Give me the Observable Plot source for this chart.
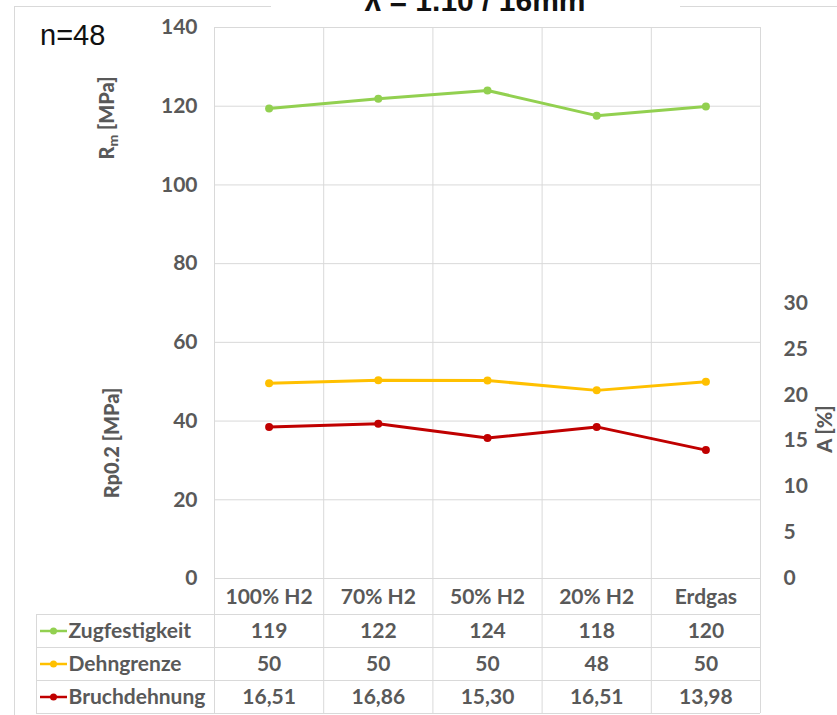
<!DOCTYPE html>
<html><head><meta charset="utf-8">
<script src="https://cdn.jsdelivr.net/npm/d3@7"></script>
<script src="https://cdn.jsdelivr.net/npm/@observablehq/plot@0.6"></script>
<style>
body{margin:0;background:#fff;}
#wrap{position:relative;width:837px;height:715px;overflow:hidden;background:#fff;}
#wrap svg{position:absolute;left:0;}
.axt{font-family:Lato, sans-serif;font-weight:900;font-size:20px;fill:#595959;}
</style></head><body><div id="wrap"></div>
<script>
const categories = ["100% H2", "70% H2", "50% H2", "20% H2", "Erdgas"];
const seriesNames = ["Zugfestigkeit", "Dehngrenze", "Bruchdehnung"];
const zugfestigkeit = [119.4, 121.9, 124.0, 117.6, 119.9];
const dehngrenze = [49.6, 50.4, 50.3, 47.8, 50.0];
const bruchdehnung = [16.51, 16.86, 15.30, 16.51, 13.98];
const leftTicks = [0, 20, 40, 60, 80, 100, 120, 140];
const rightTicks = [0, 5, 10, 15, 20, 25, 30];
const leftMax = 140, rightMax = 60;
const seriesColors = ["#92d050", "#ffc000", "#c00000"];
const titleText = "λ = 1.10 / 16mm";
const noteText = "n=48";

const toLeft = v => v * leftMax / rightMax;
const fmtComma = v => v.toFixed(2).replace(".", ",");
const seriesValues = [zugfestigkeit, dehngrenze, bruchdehnung];
const seriesOnLeft = [v => v, v => v, toLeft];
const seriesFormat = [v => String(Math.round(v)), v => String(Math.round(v)), fmtComma];

const points = [];
seriesNames.forEach((s, k) => seriesValues[k].forEach((v, i) => points.push({i, series: s, y: seriesOnLeft[k](v)})));
const cells = [];
seriesNames.forEach((s, k) => seriesValues[k].forEach((v, i) => cells.push({i, row: k, label: seriesFormat[k](v)})));
const idx = d3.range(categories.length);
const bounds = d3.range(categories.length + 1).map(i => i - 0.5);
const grid = "#d9d9d9";
const font = {fontFamily: "Lato, sans-serif", fontWeight: "bold", fontSize: "21px", color: "#595959", background: "transparent", overflow: "visible"};
const colorScale = {domain: seriesNames, range: seriesColors};

const main = Plot.plot({
  width: 837, height: 614, marginTop: 27, marginBottom: 36, marginLeft: 214, marginRight: 77,
  x: {domain: [-0.5, categories.length - 0.5]},
  y: {domain: [0, leftMax]},
  color: colorScale,
  style: font,
  marks: [
    Plot.ruleY(leftTicks, {stroke: grid}),
    Plot.ruleX(bounds, {stroke: grid, insetBottom: -36}),
    Plot.axisY(leftTicks, {anchor: "left", tickSize: 0, tickPadding: 17, label: null, fill: "#595959"}),
    Plot.axisY(rightTicks.map(toLeft), {anchor: "right", tickSize: 0, tickPadding: 23, label: null, fill: "#595959",
      tickFormat: d => String(Math.round(d * rightMax / leftMax))}),
    Plot.axisX(idx, {anchor: "bottom", tickSize: 0, tickPadding: 11, label: null, fill: "#595959", tickFormat: i => categories[i]}),
    Plot.line(points, {x: "i", y: "y", z: "series", stroke: "series", strokeWidth: 3}),
    Plot.dot(points, {x: "i", y: "y", fill: "series", r: 4})
  ]
});
main.style.top = "0px";
document.getElementById("wrap").appendChild(main);

const table = Plot.plot({
  width: 837, height: 100, marginTop: 0, marginBottom: 1, marginLeft: 214, marginRight: 77,
  x: {domain: [-0.5, categories.length - 0.5], axis: null},
  y: {domain: [0, seriesNames.length], reverse: true, axis: null},
  color: colorScale,
  style: font,
  marks: [
    Plot.ruleY(d3.range(seriesNames.length + 1), {stroke: grid, insetLeft: -178}),
    Plot.ruleX(bounds, {stroke: grid}),
    Plot.ruleX([-0.5], {stroke: grid, dx: -178}),
    Plot.tickY(seriesNames, {y: (d, k) => k + 0.5, stroke: d => d, strokeWidth: 2.5, insetLeft: -174, insetRight: 693}),
    Plot.dot(seriesNames, {x: () => -0.5, y: (d, k) => k + 0.5, fill: d => d, r: 3.5, dx: -161}),
    Plot.text(seriesNames, {x: () => -0.5, y: (d, k) => k + 0.5, text: d => d, textAnchor: "start", dx: -146, fill: "#595959"}),
    Plot.text(cells, {x: "i", y: d => d.row + 0.5, text: "label", fill: "#595959"})
  ]
});
table.style.top = "614px";
document.getElementById("wrap").appendChild(table);

// overlay: chart border, title, note and axis titles
const ov = d3.select("#wrap").append("svg").attr("width", 837).attr("height", 715).style("top", "0px");
ov.append("rect").attr("x", 14.5).attr("y", 6.5).attr("width", 900).attr("height", 800).attr("fill", "none").attr("stroke", grid);
ov.append("rect").attr("x", 271).attr("y", 0).attr("width", 409).attr("height", 26).attr("fill", "#fff");
ov.append("text").attr("x", 475).attr("y", 11).attr("text-anchor", "middle")
  .attr("font-family", "Liberation Sans, Arial, sans-serif").attr("font-weight", "bold").attr("font-size", 30).attr("fill", "#111").text(titleText);
ov.append("text").attr("x", 40).attr("y", 45)
  .attr("font-family", "Liberation Sans, Arial, sans-serif").attr("font-size", 29).attr("fill", "#111").text(noteText);
const t1 = ov.append("text").attr("class", "axt").attr("transform", "translate(114,118) rotate(-90)").attr("text-anchor", "middle");
t1.append("tspan").text("R");
t1.append("tspan").style("font-size", "14px").attr("dy", 4).text("m");
t1.append("tspan").attr("dy", -4).text(" [MPa]");
ov.append("text").attr("class", "axt").attr("transform", "translate(119,443) rotate(-90)").attr("text-anchor", "middle").text("Rp0.2 [MPa]");
ov.append("text").attr("class", "axt").attr("transform", "translate(832,429) rotate(-90)").attr("text-anchor", "middle").text("A [%]");
</script></body></html>
